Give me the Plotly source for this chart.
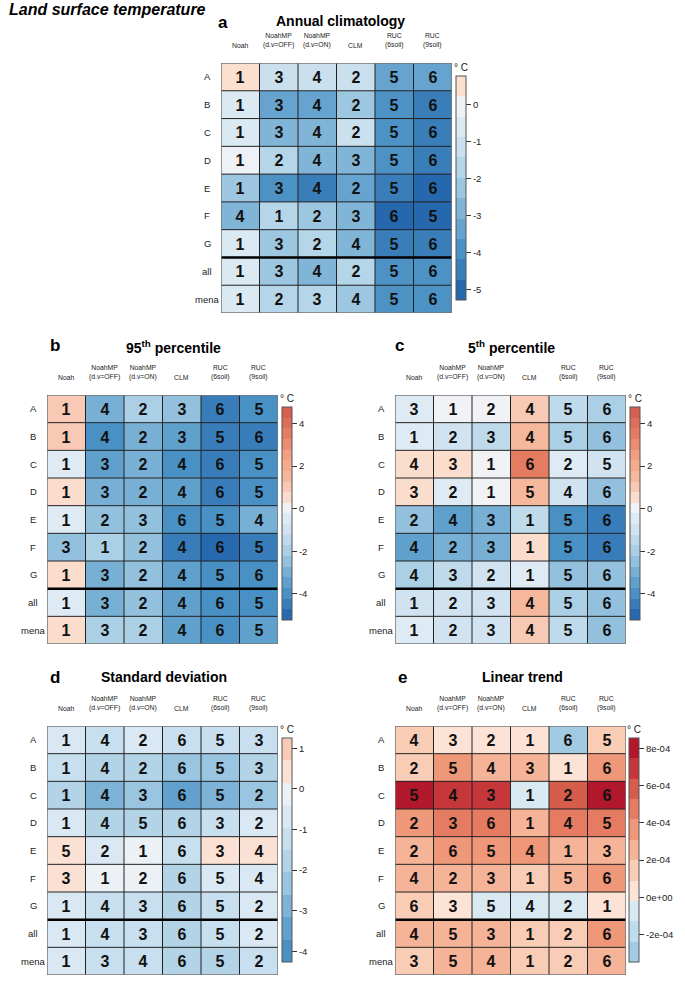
import numpy as np
import plotly.graph_objects as go

# ---------------- data ----------------
rows = ["A", "B", "C", "D", "E", "F", "G", "all", "mena"]
models = ["Noah", "NoahMP<br>(d.v=OFF)", "NoahMP<br>(d.v=ON)", "CLM", "RUC<br>(6soil)", "RUC<br>(9soil)"]

# (a) Annual climatology bias, deg C
clim_bias = [
    [0.3, -1.1, -1.3, -0.9, -3.4, -3.6],
    [-0.8, -3.2, -3.35, -2.3, -4.1, -4.25],
    [-0.8, -2.8, -3.0, -1.3, -4.1, -4.2],
    [-0.3, -1.8, -2.8, -2.6, -4.1, -4.2],
    [-2.1, -3.9, -4.3, -3.1, -4.5, -5.0],
    [-3.0, -1.8, -2.4, -2.9, -5.1, -4.9],
    [-0.6, -2.0, -1.7, -2.7, -4.3, -4.4],
    [-0.7, -2.5, -2.7, -1.8, -3.9, -4.0],
    [-0.7, -1.8, -1.9, -2.1, -3.7, -4.1],
]
clim_rank = [
    [1, 3, 4, 2, 5, 6],
    [1, 3, 4, 2, 5, 6],
    [1, 3, 4, 2, 5, 6],
    [1, 2, 4, 3, 5, 6],
    [1, 3, 4, 2, 5, 6],
    [4, 1, 2, 3, 6, 5],
    [1, 3, 2, 4, 5, 6],
    [1, 3, 4, 2, 5, 6],
    [1, 2, 3, 4, 5, 6],
]

# (b) 95th percentile bias, deg C
p95_bias = [
    [1.0, -3.0, -2.2, -2.5, -4.3, -4.0],
    [1.0, -4.2, -3.1, -3.3, -4.35, -4.5],
    [-0.3, -3.4, -3.1, -3.8, -4.4, -4.2],
    [0.6, -3.2, -2.9, -3.7, -4.3, -4.1],
    [-0.3, -2.4, -2.7, -4.0, -3.8, -2.9],
    [-2.6, -1.8, -2.3, -4.3, -4.9, -4.6],
    [0.7, -3.0, -2.5, -3.7, -3.9, -4.2],
    [-0.3, -3.0, -2.7, -3.6, -4.2, -4.0],
    [0.7, -2.0, -1.8, -3.4, -4.0, -3.6],
]
p95_rank = [
    [1, 4, 2, 3, 6, 5],
    [1, 4, 2, 3, 5, 6],
    [1, 3, 2, 4, 6, 5],
    [1, 3, 2, 4, 6, 5],
    [1, 2, 3, 6, 5, 4],
    [3, 1, 2, 4, 6, 5],
    [1, 3, 2, 4, 5, 6],
    [1, 3, 2, 4, 6, 5],
    [1, 3, 2, 4, 6, 5],
]

# (c) 5th percentile bias, deg C
p05_bias = [
    [-0.3, -0.1, -0.2, 0.9, -1.3, -2.0],
    [-0.6, -0.9, -1.5, 1.7, -1.9, -2.3],
    [0.6, 0.5, -0.1, 3.5, -0.3, -0.9],
    [0.6, -0.3, -0.2, 1.4, -1.0, -2.3],
    [-2.5, -3.4, -3.0, -1.6, -3.8, -4.6],
    [-3.3, -3.1, -3.15, 0.5, -4.0, -4.5],
    [-1.8, -1.5, -1.0, -0.3, -2.3, -2.6],
    [-0.8, -1.0, -1.2, 1.3, -2.0, -2.4],
    [-0.7, -0.8, -1.0, 1.2, -1.6, -2.5],
]
p05_rank = [
    [3, 1, 2, 4, 5, 6],
    [1, 2, 3, 4, 5, 6],
    [4, 3, 1, 6, 2, 5],
    [3, 2, 1, 5, 4, 6],
    [2, 4, 3, 1, 5, 6],
    [4, 2, 3, 1, 5, 6],
    [4, 3, 2, 1, 5, 6],
    [1, 2, 3, 4, 5, 6],
    [1, 2, 3, 4, 5, 6],
]

# (d) Standard deviation bias, deg C
sd_bias = [
    [-0.5, -1.1, -0.8, -1.4, -1.3, -1.0],
    [-1.5, -2.0, -1.6, -2.4, -2.1, -1.8],
    [-1.8, -3.0, -2.6, -3.7, -3.1, -2.1],
    [-0.4, -1.6, -1.7, -2.0, -1.3, -0.9],
    [0.68, -0.45, -0.3, -1.5, 0.55, 0.6],
    [0.45, -0.2, -0.3, -1.9, -0.6, -0.5],
    [-0.5, -1.4, -1.2, -1.6, -1.5, -0.8],
    [-0.5, -1.4, -1.2, -1.7, -1.5, -0.9],
    [-0.9, -1.3, -1.4, -1.8, -1.6, -1.0],
]
sd_rank = [
    [1, 4, 2, 6, 5, 3],
    [1, 4, 2, 6, 5, 3],
    [1, 4, 3, 6, 5, 2],
    [1, 4, 5, 6, 3, 2],
    [5, 2, 1, 6, 3, 4],
    [3, 1, 2, 6, 5, 4],
    [1, 4, 3, 6, 5, 2],
    [1, 4, 3, 6, 5, 2],
    [1, 3, 4, 6, 5, 2],
]

# (e) Linear trend bias, deg C (values read in units of 1e-4)
trend_bias_e4 = [
    [1.5, 0.7, 0.5, 0.3, -2.6, 1.7],
    [1.5, 3.5, 2.8, 2.2, 0.6, 3.8],
    [7.6, 6.6, 6.4, -0.5, 5.9, 7.8],
    [3.8, 4.5, 5.2, 2.5, 4.8, 4.9],
    [2.5, 3.9, 3.5, 3.3, 2.3, 2.8],
    [2.8, 2.3, 2.5, 1.2, 2.9, 3.8],
    [1.4, 0.6, -1.0, -0.8, -0.5, 0.3],
    [2.6, 2.9, 2.2, 1.5, 1.9, 3.8],
    [1.9, 2.4, 2.1, 1.5, 1.7, 2.8],
]
trend_rank = [
    [4, 3, 2, 1, 6, 5],
    [2, 5, 4, 3, 1, 6],
    [5, 4, 3, 1, 2, 6],
    [2, 3, 6, 1, 4, 5],
    [2, 6, 5, 4, 1, 3],
    [4, 2, 3, 1, 5, 6],
    [6, 3, 5, 4, 2, 1],
    [4, 5, 3, 1, 2, 6],
    [3, 5, 4, 1, 2, 6],
]

# colorbar ticks
ticks_a = [0, -1, -2, -3, -4, -5]
ticks_bc = [4, 2, 0, -2, -4]
ticks_d = [1, 0, -1, -2, -3, -4]
ticks_e = [8e-4, 6e-4, 4e-4, 2e-4, 0, -2e-4]
ticktext_e = ["8e-04", "6e-04", "4e-04", "2e-04", "0e+00", "-2e-04"]

# ---------------- styling helpers ----------------
W, H = 685, 988
FONT = "Liberation Sans, Arial, Helvetica, sans-serif"


def fx(x):
    return x / W


def fy(y):
    return 1 - y / H


ANCH_C = [(-5.0, (38, 104, 173)), (-4.0, (72, 143, 195)), (-3.0, (118, 175, 213)),
          (-2.0, (170, 207, 229)), (-1.0, (208, 227, 240)), (-0.5, (222, 235, 244)),
          (0.0, (240, 243, 247)), (0.5, (251, 222, 206)), (1.0, (248, 202, 182)),
          (1.5, (246, 185, 158)), (2.5, (242, 160, 128)), (3.5, (228, 125, 98)),
          (4.5, (214, 96, 77))]
ANCH_E = [(-3.0e-4, (160, 202, 226)), (-1.8e-4, (192, 220, 236)), (-0.7e-4, (218, 233, 242)),
          (0.3e-4, (252, 228, 216)), (1.0e-4, (250, 214, 196)), (2.0e-4, (247, 192, 166)),
          (3.0e-4, (243, 168, 138)), (4.0e-4, (236, 142, 112)), (5.0e-4, (226, 116, 92)),
          (6.0e-4, (212, 88, 72)), (7.0e-4, (196, 52, 56)), (8.0e-4, (178, 24, 43))]


def interp(v, anchors):
    xs = [a[0] for a in anchors]
    rgb = [np.interp(v, xs, [a[1][k] for a in anchors]) for k in range(3)]
    return "rgb(%d,%d,%d)" % tuple(int(round(c)) for c in rgb)


def banded(zmin, zmax, n, anchors):
    w = (zmax - zmin) / n
    scale = []
    for i in range(n):
        c = interp(zmin + (i + 0.5) * w, anchors)
        scale.append([i / n, c])
        scale.append([(i + 1) / n, c])
    return scale


panels = [
    dict(z=clim_bias, r=clim_rank, zmin=-5.27, zmax=0.76, n=11, anch=ANCH_C,
         heat=(221, 452, 63, 313), cb=(456, 76, 300), tv=ticks_a, tt=[str(t) for t in ticks_a],
         letter="a", lpos=(223, 22), title="Annual climatology", tpos=(340, 21)),
    dict(z=p95_bias, r=p95_rank, zmin=-5.22, zmax=4.78, n=20, anch=ANCH_C,
         heat=(47, 278, 395, 644), cb=(282, 406.7, 620), tv=ticks_bc, tt=[str(t) for t in ticks_bc],
         letter="b", lpos=(55, 345), title="95<sup>th</sup> percentile", tpos=(174, 347)),
    dict(z=p05_bias, r=p05_rank, zmin=-5.22, zmax=4.78, n=20, anch=ANCH_C,
         heat=(395, 626, 395, 644), cb=(630, 406.7, 620), tv=ticks_bc, tt=[str(t) for t in ticks_bc],
         letter="c", lpos=(400, 345), title="5<sup>th</sup> percentile", tpos=(512, 347)),
    dict(z=sd_bias, r=sd_rank, zmin=-4.26, zmax=1.26, n=10, anch=ANCH_C,
         heat=(47, 278, 726, 975), cb=(282, 737.7, 962), tv=ticks_d, tt=[str(t) for t in ticks_d],
         letter="d", lpos=(55, 677), title="Standard deviation", tpos=(164, 677)),
    dict(z=(np.array(trend_bias_e4) * 1e-4).tolist(), r=trend_rank, zmin=-3.47e-4, zmax=8.57e-4, n=11,
         anch=ANCH_E, heat=(395, 626, 726, 975), cb=(629, 737.7, 962), tv=ticks_e, tt=ticktext_e,
         letter="e", lpos=(402, 677), title="Linear trend", tpos=(522, 677)),
]

fig = go.Figure()
layout = dict(width=W, height=H, margin=dict(l=0, r=0, t=0, b=0),
              paper_bgcolor="white", plot_bgcolor="white", showlegend=False)
annotations = []
shapes = []

annotations.append(dict(text="<b><i>Land surface temperature</i></b>", x=fx(7), y=fy(9),
                        xref="paper", yref="paper", xanchor="left", yanchor="middle",
                        showarrow=False, font=dict(family=FONT, size=16, color="black")))

for k, p in enumerate(panels, start=1):
    x0, x1, y0, y1 = p["heat"]
    xa, ya = ("x" if k == 1 else f"x{k}"), ("y" if k == 1 else f"y{k}")
    cbx, cby0, cby1 = p["cb"]
    fig.add_trace(go.Heatmap(
        z=p["z"], x=list(range(len(models))), y=list(range(len(rows))),
        text=p["r"], texttemplate="%{text}",
        textfont=dict(family=FONT, size=16, color="#111", weight="bold"),
        colorscale=banded(p["zmin"], p["zmax"], p["n"], p["anch"]),
        zmin=p["zmin"], zmax=p["zmax"], xaxis=xa, yaxis=ya, hoverinfo="skip",
        colorbar=dict(x=fx(cbx), xanchor="left", xpad=0, ypad=0,
                      y=fy((cby0 + cby1) / 2), yanchor="middle",
                      len=(cby1 - cby0) / H, lenmode="fraction",
                      thickness=10, thicknessmode="pixels",
                      outlinewidth=1, outlinecolor="#555", borderwidth=0,
                      ticks="outside", ticklen=5, tickwidth=1, tickcolor="#333",
                      tickvals=p["tv"], ticktext=p["tt"],
                      tickfont=dict(family=FONT, size=9.5, color="#222")),
    ))
    axkey = "xaxis" if k == 1 else f"xaxis{k}"
    aykey = "yaxis" if k == 1 else f"yaxis{k}"
    layout[axkey] = dict(domain=[fx(x0), fx(x1)], range=[-0.5, len(models) - 0.5], anchor=ya,
                         visible=False, fixedrange=True)
    layout[aykey] = dict(domain=[fy(y1), fy(y0)], range=[len(rows) - 0.5, -0.5], anchor=xa,
                         visible=False, fixedrange=True)

    cw = (x1 - x0) / len(models)
    rh = (y1 - y0) / len(rows)
    for j, m in enumerate(models):
        annotations.append(dict(text=m, x=fx(x0 + (j + 0.5) * cw), y=fy(y0 - 12),
                                xref="paper", yref="paper", xanchor="center", yanchor="bottom",
                                showarrow=False, font=dict(family=FONT, size=6.8, color="#222")))
    for i, rname in enumerate(rows):
        annotations.append(dict(text=rname, x=fx(x0 - 14), y=fy(y0 + (i + 0.5) * rh),
                                xref="paper", yref="paper", xanchor="center", yanchor="middle",
                                showarrow=False, font=dict(family=FONT, size=9.5, color="#222")))
    annotations.append(dict(text="<b>" + p["letter"] + "</b>", x=fx(p["lpos"][0]), y=fy(p["lpos"][1]),
                            xref="paper", yref="paper", xanchor="center", yanchor="middle",
                            showarrow=False, font=dict(family=FONT, size=17, color="black")))
    annotations.append(dict(text="<b>" + p["title"] + "</b>", x=fx(p["tpos"][0]), y=fy(p["tpos"][1]),
                            xref="paper", yref="paper", xanchor="center", yanchor="middle",
                            showarrow=False, font=dict(family=FONT, size=14, color="black")))
    annotations.append(dict(text="° C", x=fx(cbx + 5), y=fy(cby0 - 1),
                            xref="paper", yref="paper", xanchor="center", yanchor="bottom",
                            showarrow=False, font=dict(family=FONT, size=10, color="#222")))

    # cell grid
    for j in range(1, len(models)):
        shapes.append(dict(type="line", xref=xa, yref=ya, x0=j - 0.5, x1=j - 0.5,
                           y0=-0.5, y1=len(rows) - 0.5, line=dict(color="#222", width=1)))
    for i in range(1, len(rows)):
        thick = (i == 7)
        shapes.append(dict(type="line", xref=xa, yref=ya, x0=-0.5, x1=len(models) - 0.5,
                           y0=i - 0.5, y1=i - 0.5,
                           line=dict(color="black" if thick else "#222", width=2.5 if thick else 1)))
    shapes.append(dict(type="rect", xref=xa, yref=ya, x0=-0.5, x1=len(models) - 0.5,
                       y0=-0.5, y1=len(rows) - 0.5, line=dict(color="#777", width=1.5)))

layout["annotations"] = annotations
layout["shapes"] = shapes
fig.update_layout(**layout)
fig.write_html("out.html", config={"displayModeBar": False},
               post_script="document.body.style.margin='0px';document.body.style.padding='0px';")
